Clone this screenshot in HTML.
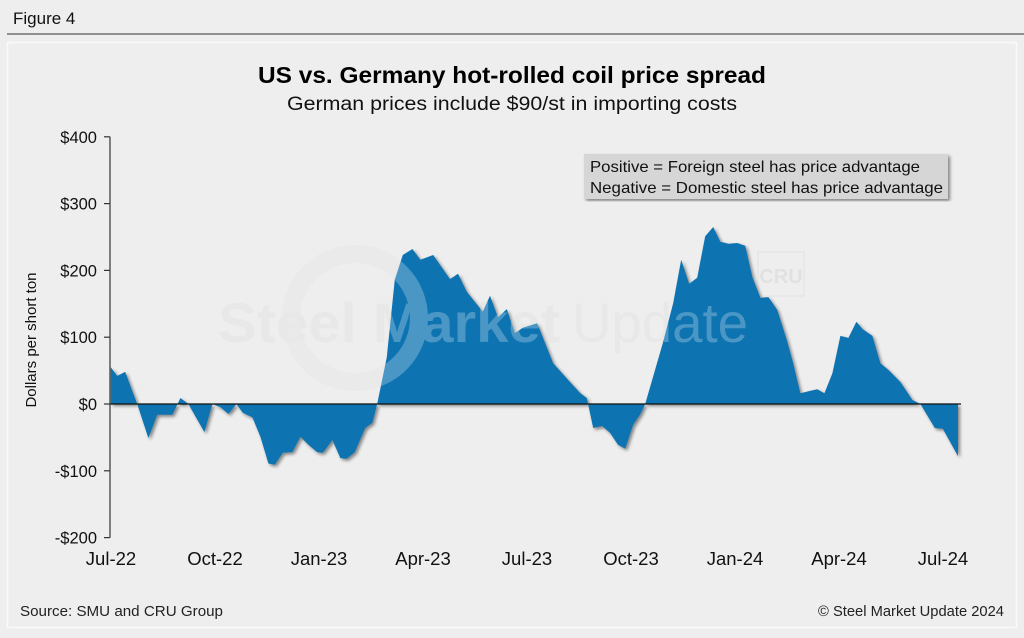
<!DOCTYPE html>
<html><head><meta charset="utf-8">
<style>
html,body{margin:0;padding:0;background:#eeeeee;}
body{width:1024px;height:633px;overflow:hidden;font-family:"Liberation Sans",Arial,sans-serif;}
svg text{font-family:"Liberation Sans",Arial,sans-serif;}
</style></head>
<body>
<svg id="chart" width="1024" height="633" viewBox="0 0 1024 633" xmlns="http://www.w3.org/2000/svg">
<defs>
<filter id="sh" x="-5%" y="-5%" width="110%" height="110%"><feDropShadow dx="2" dy="2" stdDeviation="1.5" flood-color="#000" flood-opacity="0.45"/></filter>
</defs>
<rect x="0" y="0" width="1024" height="633" fill="#eeeeee"/>
<text x="13" y="24" font-size="17" fill="#111">Figure 4</text>
<line x1="7" y1="34" x2="1024" y2="34" stroke="#333" stroke-width="1"/>
<rect x="7.5" y="42.5" width="1009" height="585" fill="#eeeeee" stroke="#fafafa" stroke-width="1.5"/>
<text x="258" y="83" font-size="23" font-weight="bold" textLength="508" lengthAdjust="spacingAndGlyphs" fill="#000">US vs. Germany hot-rolled coil price spread</text>
<text x="287" y="110" font-size="19" textLength="450" lengthAdjust="spacingAndGlyphs" fill="#111">German prices include $90/st in importing costs</text>
<g>
<circle cx="355" cy="318" r="64" fill="none" stroke="#e3e3e3" stroke-width="18"/>
<text x="218" y="342" font-size="56" font-weight="bold" textLength="342" lengthAdjust="spacingAndGlyphs" fill="#e1e1e1">Steel Market</text>
<text x="572" y="342" font-size="56" textLength="176" lengthAdjust="spacingAndGlyphs" fill="#e1e1e1">Update</text>
<rect x="758" y="252" width="46" height="44" fill="none" stroke="#e3e3e3"/>
<text x="781" y="283" font-size="20" font-weight="bold" text-anchor="middle" fill="#e1e1e1">CRU</text>
</g>
<g id="plot"></g>
<g opacity="0.25">
<circle cx="355" cy="318" r="64" fill="none" stroke="#fff" stroke-width="18"/>
<text x="218" y="342" font-size="56" font-weight="bold" textLength="342" lengthAdjust="spacingAndGlyphs" fill="#fff">Steel Market</text>
<text x="572" y="342" font-size="56" textLength="176" lengthAdjust="spacingAndGlyphs" fill="#fff">Update</text>
</g>
<g>
<rect x="584" y="154" width="364" height="45" fill="#d6d6d6" filter="url(#sh)"/>
<text x="590" y="172" font-size="16" textLength="330" lengthAdjust="spacingAndGlyphs" fill="#111">Positive = Foreign steel has price advantage</text>
<text x="590" y="193" font-size="16" textLength="353" lengthAdjust="spacingAndGlyphs" fill="#111">Negative = Domestic steel has price advantage</text>
</g>
<text x="20" y="616" font-size="15" textLength="203" lengthAdjust="spacingAndGlyphs" fill="#222">Source: SMU and CRU Group</text>
<text x="818" y="616" font-size="15" textLength="186" lengthAdjust="spacingAndGlyphs" fill="#222">© Steel Market Update 2024</text>
</svg>
<script>
const weeks = [0.1,0.9,1.9,3.4,4.8,5.9,7.8,8.8,9.8,11.8,12.8,13.8,14.8,15.8,16.6,17.8,18.8,19.8,20.6,21.6,22.8,23.8,24.8,25.9,26.6,27.8,28.8,29.6,30.6,31.9,32.8,33.4,34.6,35.6,36.6,37.8,38.8,40.4,42.5,43.5,44.6,46.6,47.5,48.5,49.6,50.6,51.6,53.4,55.4,57.5,58.8,59.6,60.4,61.5,62.5,63.5,64.4,65.4,66.3,66.9,69.1,70.4,71.4,72.4,73.4,74.4,75.4,76.3,77.3,78.4,79.4,80.3,81.3,82.3,83.4,84.6,85.4,86.3,87.3,88.4,89.3,90.3,91.3,92.3,93.3,94.1,95.3,96.3,97.3,98.8,100.3,101.3,103.1,104.1,106];
const spread = [55,42,48,0,-51,-16,-16,9,0,-42,0,-5,-15,0,-13,-20,-49,-89,-91,-73,-72,-49,-61,-72,-73,-54,-81,-82,-72,-36,-28,0,70,186,223,232,216,223,187,195,168,138,162,130,142,106,114,121,61,33,16,9,-36,-33,-43,-61,-67,-31,-15,0,91,151,216,180,189,251,265,243,240,241,237,190,159,160,141,96,61,16,19,22,16,46,102,99,123,112,102,61,51,33,6,0,-36,-37,-78];
const xTickLabels = ["Jul-22","Oct-22","Jan-23","Apr-23","Jul-23","Oct-23","Jan-24","Apr-24","Jul-24"];
const xTickWeeks = [0,13,26,39,52,65,78,91,104];
const yTicks = [400,300,200,100,0,-100,-200];
const yTickLabels = ["$400","$300","$200","$100","$0","-$100","-$200"];

const NS="http://www.w3.org/2000/svg";
const plot=document.getElementById('plot');
const X=w=>110+w*8;
const Y=v=>404-v*0.668;
function mk(tag,attrs){const e=document.createElementNS(NS,tag);for(const k in attrs)e.setAttribute(k,attrs[k]);plot.appendChild(e);return e;}

let d=`M${X(weeks[0])},${Y(0)}`;
for(let i=0;i<weeks.length;i++) d+=` L${X(weeks[i]).toFixed(1)},${Y(spread[i]).toFixed(1)}`;
d+=` L${X(weeks[weeks.length-1])},${Y(0)} Z`;
const area=mk('path',{d:d,fill:'#1173b1',filter:'url(#sh)'});



const zl=mk('line',{x1:110,x2:961,y1:Y(0),y2:Y(0),stroke:'#111','stroke-width':1.2});



const ax=mk('line',{x1:110,x2:110,y1:Y(400),y2:Y(-200),stroke:'#333','stroke-width':1.2});



yTicks.forEach((v,i)=>{
  const t=mk('line',{x1:104,x2:110,y1:Y(v),y2:Y(v),stroke:'#333','stroke-width':1.2});
  
  
  const l=mk('text',{x:97,y:Y(v)+6,'font-size':16.5,'text-anchor':'end',fill:'#111'});
  l.textContent=yTickLabels[i];
  
  
});
xTickWeeks.forEach((w,i)=>{
  const l=mk('text',{x:X(w)+1,y:565,'font-size':18.5,'text-anchor':'middle',fill:'#111'});
  l.textContent=xTickLabels[i];
  
  
});
const yt=mk('text',{x:0,y:0,'font-size':15,'text-anchor':'middle',fill:'#111',transform:'translate(36,340) rotate(-90)'});
yt.textContent='Dollars per short ton';


</script>
</body></html>
